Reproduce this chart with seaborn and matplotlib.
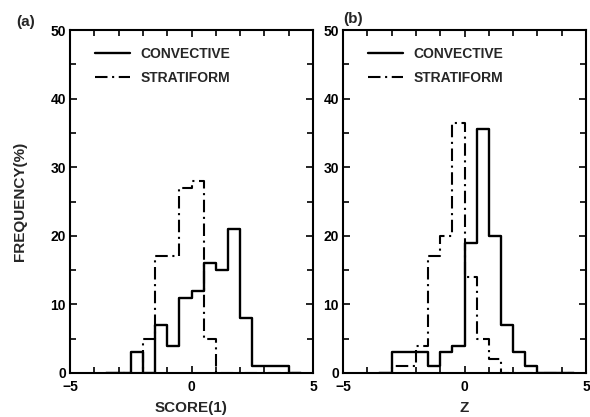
import numpy as np
import pandas as pd
import matplotlib
matplotlib.use("Agg")
import matplotlib.pyplot as plt
from matplotlib.ticker import MultipleLocator
import seaborn as sns

# Данные: левые границы бинов (шаг 0.5) и частоты в процентах
bin_left = [-3.5, -3.0, -2.5, -2.0, -1.5, -1.0, -0.5, 0.0,
            0.5, 1.0, 1.5, 2.0, 2.5, 3.0, 3.5, 4.0]
conv_a = [0, 0, 3, 0, 7, 4, 11, 12, 16, 15, 21, 8, 1, 1, 1, 0]
strat_a = [0, 0, 0, 5, 17, 17, 27, 28, 5, 0, 0, 0, 0, 0, 0, 0]
conv_b = [0, 3, 3, 3, 1, 3, 4, 19, 35.5, 20, 7, 3, 1, 0, 0, 0]
strat_b = [0, 1, 1, 4, 17, 20, 36.5, 14, 5, 2, 0, 0, 0, 0, 0, 0]

panel_tags = ["(a)", "(b)"]
x_labels = ["SCORE(1)", "Z"]
series_names = ["CONVECTIVE", "STRATIFORM"]

sns.set_style("ticks")
plt.rcParams["font.family"] = ["Liberation Sans", "DejaVu Sans"]

W, H = 590, 417
fig = plt.figure(figsize=(W / 100, H / 100), dpi=100)

width = 0.5
edges = np.append(np.array(bin_left), bin_left[-1] + width)
centers = np.array(bin_left) + width / 2
dashdot = (0, (6, 2.2, 1, 2.2))


def px_axes(left, right, top, bottom):
    return fig.add_axes([left / W, 1 - bottom / H, (right - left) / W, (bottom - top) / H])


ax_a = px_axes(70, 313, 30, 373)
ax_b = px_axes(343, 586, 30, 373)

for ax, conv, strat, tag, xl in zip([ax_a, ax_b], [conv_a, conv_b], [strat_a, strat_b],
                                     panel_tags, x_labels):
    df = pd.DataFrame({"x": centers, "conv": conv, "strat": strat})
    sns.histplot(data=df, x="x", weights="conv", bins=list(edges), element="step", fill=False,
                 color="black", lw=1.7, ax=ax)
    sns.histplot(data=df, x="x", weights="strat", bins=list(edges), element="step", fill=False,
                 color="black", lw=1.5, linestyle=dashdot, ax=ax)

    ax.set_xlim(-5, 5)
    ax.set_ylim(0, 50)
    ax.xaxis.set_major_locator(MultipleLocator(5))
    ax.xaxis.set_minor_locator(MultipleLocator(1))
    ax.yaxis.set_major_locator(MultipleLocator(10))
    ax.yaxis.set_minor_locator(MultipleLocator(5))
    ax.tick_params(which="both", direction="in", top=True, right=True, width=1.2,
                   labelsize=10, colors="black")
    ax.tick_params(which="major", length=5)
    ax.tick_params(which="minor", length=4)
    ax.tick_params(axis="x", pad=5)
    ax.tick_params(axis="y", pad=3)
    for lab in ax.get_xticklabels() + ax.get_yticklabels():
        lab.set_fontweight("bold")
    for sp in ax.spines.values():
        sp.set_linewidth(1.5)
        sp.set_color("black")

    ax.set_xlabel(xl, fontsize=11, fontweight="bold", labelpad=5)
    ax.set_ylabel("")

    lines = ax.get_lines()[:2]
    ax.legend(lines, series_names, loc="upper left", bbox_to_anchor=(0.08, 0.967),
              frameon=False, prop={"weight": "bold", "size": 10}, handlelength=2.5,
              handletextpad=0.8, labelspacing=0.72, borderaxespad=0.0, borderpad=0.4)

ax_a.set_ylabel("FREQUENCY(%)", fontsize=11, fontweight="bold", labelpad=17)

fig.text(16 / W, 1 - 22 / H, panel_tags[0], fontsize=11, fontweight="bold", va="center")
fig.text(343 / W, 1 - 19 / H, panel_tags[1], fontsize=11, fontweight="bold", va="center")

fig.savefig("out.png", dpi=100)
